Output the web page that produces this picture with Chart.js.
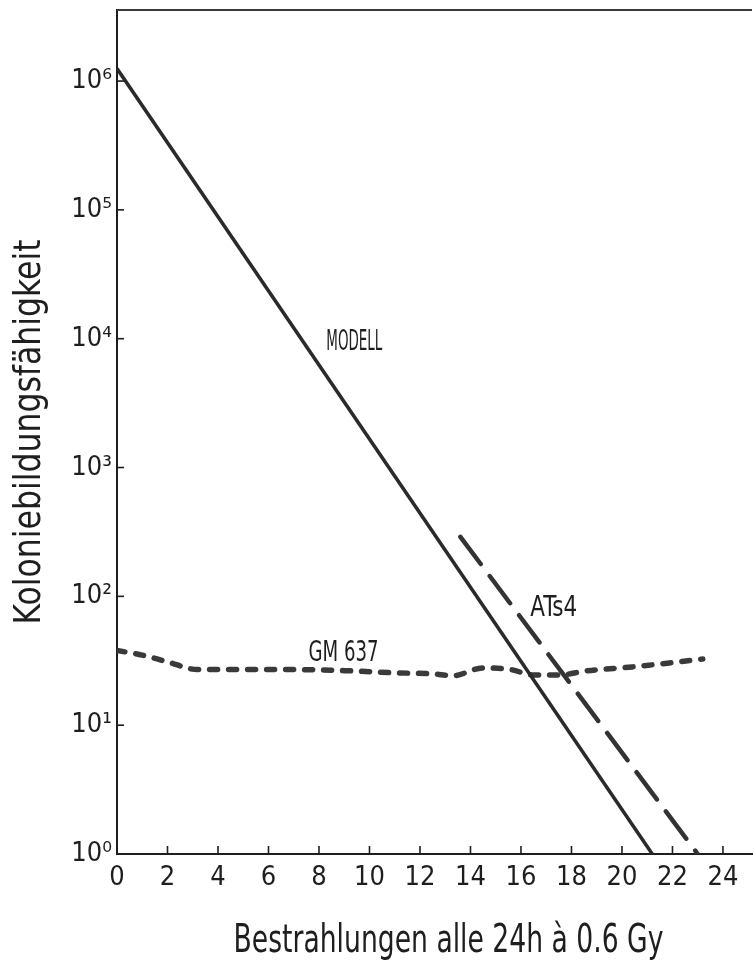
<!DOCTYPE html>
<html>
<head>
<meta charset="utf-8">
<script src="https://cdn.jsdelivr.net/npm/chart.js@4.4.0/dist/chart.umd.min.js"></script>
<style>
  html, body { margin: 0; padding: 0; background: #ffffff; }
  #wrap { width: 753px; height: 960px; }
</style>
</head>
<body>
<div id="wrap"><canvas id="c" width="753" height="960"></canvas></div>
<script>
// ---- data ----
const modellX = [0, 21.2];
const modellY = [1.25e6, 1];

const ats4X = [13.6, 23.0];
const ats4Y = [290, 1];

const gmX = [0, 1, 2, 3.2, 5, 7, 9, 11, 12.5, 13.3, 14.5, 15.6, 16.5, 17.5, 18.6, 20.4, 21.8, 23.2];
const gmY = [38, 35, 31, 27, 27, 27, 26.5, 25.5, 25, 24.2, 27.8, 27, 24.5, 24.5, 26.4, 28.3, 30.3, 32.6];

const xTicks = [0, 2, 4, 6, 8, 10, 12, 14, 16, 18, 20, 22, 24];
const yTicks = [1, 10, 100, 1000, 10000, 100000, 1000000];
const supers = ['⁰', '¹', '²', '³', '⁴', '⁵', '⁶'];

const curveLabels = ['MODELL', 'GM 637', 'ATs4'];
const curveLabelX = [9.4, 8.97, 17.3];
const curveLabelY = [9300, 36.3, 81];

const xTitle = 'Bestrahlungen alle 24h à 0.6 Gy';
const yTitle = 'Koloniebildungsfähigkeit';

// ---- styling ----
const FONT = '"DejaVu Sans Condensed", "Liberation Sans Narrow", sans-serif';
const INK = '#1e1e1e';
const LABEL_WIDTHS = [56, 70, 47];

function pts(xs, ys) { return xs.map((x, i) => ({ x: x, y: ys[i] })); }

function narrowText(ctx, text, x, y, targetWidth, rot) {
  const w = ctx.measureText(text).width;
  ctx.save();
  ctx.translate(x, y);
  if (rot) ctx.rotate(rot);
  ctx.scale(targetWidth / w, 1);
  ctx.fillText(text, 0, 0);
  ctx.restore();
}

const decorations = {
  id: 'decorations',
  afterDatasetsDraw(chart) {
    const ctx = chart.ctx, xs = chart.scales.x, ys = chart.scales.y, a = chart.chartArea;
    ctx.save();
    ctx.strokeStyle = INK;
    ctx.lineWidth = 1.6;
    xTicks.forEach(v => {
      if (v === 0) return;
      const px = xs.getPixelForValue(v);
      ctx.beginPath(); ctx.moveTo(px, a.bottom); ctx.lineTo(px, a.bottom - 8); ctx.stroke();
    });
    yTicks.forEach(v => {
      if (v === 1) return;
      const py = ys.getPixelForValue(v);
      ctx.beginPath(); ctx.moveTo(a.left, py); ctx.lineTo(a.left + 7, py); ctx.stroke();
    });
    // top frame line
    ctx.strokeStyle = '#3a3a3a';
    ctx.lineWidth = 2;
    ctx.beginPath(); ctx.moveTo(a.left, a.top); ctx.lineTo(a.right, a.top); ctx.stroke();

    ctx.fillStyle = INK;
    // curve labels
    ctx.font = '29px ' + FONT;
    ctx.textAlign = 'center';
    ctx.textBaseline = 'middle';
    curveLabels.forEach((t, i) => {
      narrowText(ctx, t, xs.getPixelForValue(curveLabelX[i]), ys.getPixelForValue(curveLabelY[i]), LABEL_WIDTHS[i], 0);
    });

    // axis titles
    ctx.textBaseline = 'alphabetic';
    ctx.font = '39px ' + FONT;
    narrowText(ctx, xTitle, (a.left + a.right) / 2 + 14, 952, 430, 0);
    ctx.font = '38px ' + FONT;
    narrowText(ctx, yTitle, 40, (a.top + a.bottom) / 2, 385, -Math.PI / 2);
    ctx.restore();
  }
};

new Chart(document.getElementById('c'), {
  type: 'line',
  data: {
    datasets: [
      {
        label: 'MODELL',
        data: pts(modellX, modellY),
        borderColor: '#2a2a2a', borderWidth: 3.5,
        pointRadius: 0, tension: 0, fill: false
      },
      {
        label: 'ATs4',
        data: pts(ats4X, ats4Y),
        borderColor: '#333333', borderWidth: 4.5,
        borderDash: [34, 15], borderCapStyle: 'round',
        pointRadius: 0, tension: 0, fill: false
      },
      {
        label: 'GM 637 outline',
        data: pts(gmX, gmY),
        borderColor: '#3a3a3a', borderWidth: 5.5,
        borderDash: [8, 11], borderCapStyle: 'round',
        cubicInterpolationMode: 'monotone',
        pointRadius: 0, fill: false
      },
      {
        label: 'GM 637',
        data: pts(gmX, gmY),
        borderColor: '#a0a0a0', borderWidth: 3,
        borderDash: [8, 11], borderCapStyle: 'round',
        cubicInterpolationMode: 'monotone',
        pointRadius: 0, fill: false
      }
    ]
  },
  options: {
    responsive: false,
    animation: false,
    devicePixelRatio: 1,
    layout: { padding: { top: 10, right: 1, left: 0, bottom: 0 } },
    plugins: { legend: { display: false }, tooltip: { enabled: false } },
    scales: {
      x: {
        type: 'linear',
        min: 0, max: 25.15,
        afterBuildTicks: s => { s.ticks = xTicks.map(v => ({ value: v })); },
        afterFit: s => { s.height = 106; s.paddingLeft = 0; s.paddingRight = 0; },
        grid: { display: false, drawTicks: false },
        border: { display: true, color: INK, width: 2 },
        ticks: {
          includeBounds: false,
          autoSkip: false,
          padding: 8,
          color: INK,
          font: { family: FONT, size: 27 },
          maxRotation: 0,
          callback: v => (xTicks.indexOf(v) >= 0 ? String(v) : '')
        },
        title: { display: false }
      },
      y: {
        type: 'logarithmic',
        min: 1, max: 3.56e6,
        afterBuildTicks: s => { s.ticks = yTicks.map(v => ({ value: v })); },
        afterFit: s => { s.width = 117; s.paddingTop = 0; s.paddingBottom = 0; },
        grid: { display: false, drawTicks: false },
        border: { display: true, color: INK, width: 2 },
        ticks: {
          padding: 5,
          color: INK,
          font: { family: FONT, size: 27 },
          callback: v => '10' + supers[Math.round(Math.log10(v))]
        },
        title: { display: false }
      }
    }
  },
  plugins: [decorations]
});
</script>
</body>
</html>
